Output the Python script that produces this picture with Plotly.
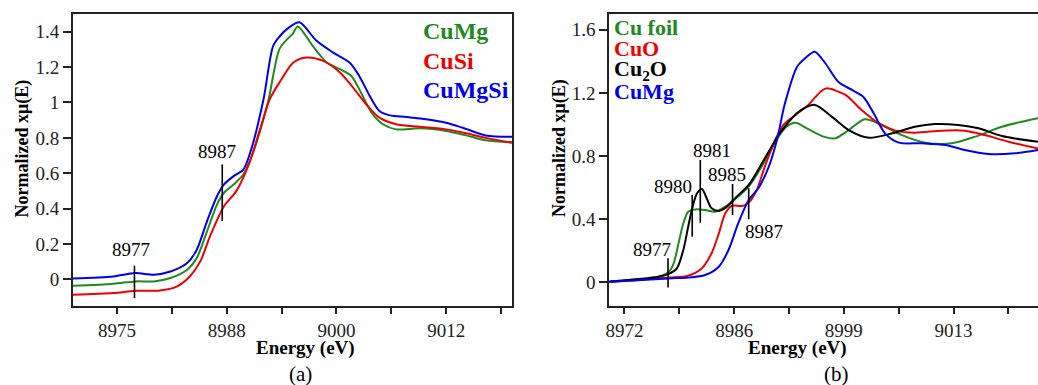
import plotly.graph_objects as go

# ---------------- Panel (a): CuMg, CuSi, CuMgSi ----------------
a_cumg_e = [8970.0, 8974.6, 8977.1, 8979.2, 8981.1, 8983.0, 8984.1, 8985.2, 8986.4, 8987.2,
            8988.3, 8989.4, 8990.5, 8992.2, 8993.5, 8994.4, 8995.0, 8995.6, 8997.3, 8998.9,
            9000.4, 9001.7, 9002.8, 9004.0, 9005.3, 9006.8, 9009.5, 9012.5, 9014.8, 9017.0, 9020.0]
a_cumg_mu = [-0.036, -0.024, -0.011, -0.011, 0.008, 0.055, 0.121, 0.263, 0.423, 0.490,
             0.537, 0.593, 0.716, 1.000, 1.300, 1.358, 1.386, 1.430, 1.320, 1.226,
             1.188, 1.150, 1.056, 0.943, 0.877, 0.848, 0.854, 0.839, 0.814, 0.786, 0.775]

a_cusi_e = [8970.0, 8974.6, 8977.1, 8979.9, 8981.8, 8983.3, 8984.5, 8985.6, 8987.2, 8988.6,
            8990.1, 8991.3, 8992.4, 8993.6, 8995.1, 8996.6, 8998.5, 9000.4, 9001.9, 9003.4,
            9004.9, 9006.8, 9009.5, 9012.5, 9014.8, 9017.0, 9020.0]
a_cusi_mu = [-0.087, -0.077, -0.064, -0.062, -0.040, 0.017, 0.102, 0.244, 0.414, 0.499,
             0.660, 0.848, 1.018, 1.120, 1.226, 1.254, 1.235, 1.170, 1.084, 0.990,
             0.914, 0.877, 0.863, 0.848, 0.826, 0.800, 0.772]

a_cumgsi_e = [8970.0, 8974.6, 8977.1, 8979.2, 8981.1, 8983.0, 8984.1, 8985.2, 8986.4, 8987.2,
              8988.3, 8989.4, 8990.3, 8991.7, 8992.8, 8993.6, 8994.5, 8995.8, 8997.7, 8999.6,
              9001.5, 9002.6, 9003.8, 9004.9, 9006.1, 9008.0, 9010.2, 9012.5, 9014.4, 9017.0, 9020.0]
a_cumgsi_mu = [0.005, 0.017, 0.036, 0.027, 0.045, 0.093, 0.168, 0.320, 0.470, 0.537,
               0.584, 0.620, 0.735, 1.018, 1.320, 1.377, 1.420, 1.453, 1.350, 1.283,
               1.226, 1.150, 1.037, 0.952, 0.927, 0.918, 0.905, 0.886, 0.857, 0.814, 0.807]

# edge-feature markers: energy, lower and upper end of the tick
a_mark_e = [8977, 8987]
a_mark_lo = [-0.105, 0.33]
a_mark_hi = [0.078, 0.65]

a_tickvals = [8975, 8987.5, 9000, 9012.5]
a_ticktext = ["8975", "8988", "9000", "9012"]
a_minorvals = [8981.25, 8993.75, 9006.25, 9018.75]
a_ytickvals = [0, 0.2, 0.4, 0.6, 0.8, 1.0, 1.2, 1.4]
a_yticktext = ["0", "0.2", "0.4", "0.6", "0.8", "1", "1.2", "1.4"]

# ---------------- Panel (b): references vs CuMg ----------------
b_foil_e = [8969.7, 8973.3, 8975.8, 8977.1, 8977.7, 8978.3, 8978.9, 8979.5, 8980.4, 8981.6,
            8982.8, 8984.1, 8985.3, 8987.0, 8988.6, 8990.7, 8991.7, 8992.8, 8994.4, 8996.3,
            8997.7, 8999.4, 9001.4, 9003.5, 9006.0, 9008.9, 9012.2, 9015.1, 9018.4, 9022.9]
b_foil_mu = [0.004, 0.015, 0.035, 0.067, 0.120, 0.247, 0.374, 0.447, 0.462, 0.458,
             0.447, 0.479, 0.526, 0.606, 0.733, 0.923, 0.986, 1.011, 0.970, 0.923,
             0.912, 0.965, 1.033, 0.997, 0.933, 0.885, 0.881, 0.923, 0.986, 1.040]

b_cuo_e = [8969.7, 8975.8, 8977.1, 8979.5, 8981.2, 8982.4, 8983.3, 8984.1, 8984.9, 8986.2,
           8987.0, 8988.0, 8989.0, 8990.3, 8991.3, 8992.8, 8994.4, 8995.2, 8996.1, 8996.7,
           8999.0, 9001.0, 9003.1, 9005.2, 9007.6, 9010.9, 9013.8, 9016.3, 9019.2, 9022.9]
b_cuo_mu = [0.004, 0.025, 0.030, 0.042, 0.089, 0.184, 0.310, 0.437, 0.484, 0.484,
            0.505, 0.585, 0.733, 0.902, 0.997, 1.060, 1.124, 1.170, 1.215, 1.229,
            1.187, 1.092, 1.008, 0.961, 0.948, 0.961, 0.961, 0.933, 0.891, 0.848]

b_cu2o_e = [8969.7, 8975.8, 8977.1, 8978.1, 8978.9, 8979.5, 8980.0, 8980.6, 8981.2, 8981.8,
            8982.4, 8983.3, 8984.3, 8985.3, 8987.0, 8988.6, 8990.7, 8991.7, 8993.2, 8995.2,
            8997.3, 8999.4, 9001.9, 9004.8, 9007.6, 9010.1, 9013.0, 9015.5, 9018.4, 9022.9]
b_cu2o_mu = [0.004, 0.035, 0.053, 0.089, 0.205, 0.352, 0.469, 0.564, 0.591, 0.532,
             0.469, 0.452, 0.479, 0.532, 0.617, 0.750, 0.933, 1.000, 1.081, 1.124,
             1.050, 0.965, 0.916, 0.944, 0.986, 1.003, 0.997, 0.976, 0.927, 0.890]

b_cumg_e = [8969.7, 8977.1, 8979.5, 8981.6, 8983.3, 8984.5, 8985.7, 8987.0, 8988.2, 8989.5,
            8990.5, 8991.5, 8993.0, 8994.0, 8995.2, 8996.5, 8998.1, 8999.8, 9001.2, 9002.5,
            9003.9, 9005.6, 9008.5, 9011.4, 9013.8, 9016.7, 9020.0, 9022.9]
b_cumg_mu = [0.004, 0.025, 0.030, 0.046, 0.099, 0.205, 0.374, 0.522, 0.596, 0.733,
             0.902, 1.134, 1.366, 1.420, 1.461, 1.388, 1.271, 1.219, 1.176, 1.071,
             0.944, 0.885, 0.881, 0.870, 0.838, 0.813, 0.817, 0.838]

b_mark_e = [8977, 8980, 8981, 8985, 8987]
b_mark_lo = [-0.032, 0.289, 0.378, 0.426, 0.399]
b_mark_hi = [0.152, 0.553, 0.775, 0.623, 0.596]

b_tickvals = [8971.6, 8985.2, 8998.8, 9012.4]
b_ticktext = ["8972", "8986", "8999", "9013"]
b_minorvals = [8978.4, 8992.0, 9005.6, 9019.2]
b_ytickvals = [0, 0.4, 0.8, 1.2, 1.6]
b_yticktext = ["0", "0.4", "0.8", "1.2", "1.6"]

GREEN = "#1f8a1f"
RED = "#ee0000"
BLUE = "#0000ee"
BLACK = "#000000"
SERIF = "Times New Roman, Liberation Serif, serif"

W, H = 1038, 385

fig = go.Figure()


def curve(x, y, color, xa, ya):
    fig.add_trace(go.Scatter(x=x, y=y, mode="lines", xaxis=xa, yaxis=ya,
                             line=dict(color=color, width=2, shape="spline", smoothing=0.8),
                             showlegend=False, hoverinfo="skip"))


def markers(es, los, his, xa, ya):
    for e, lo, hi in zip(es, los, his):
        fig.add_trace(go.Scatter(x=[e, e], y=[lo, hi], mode="lines", xaxis=xa, yaxis=ya,
                                 line=dict(color=BLACK, width=1.6),
                                 showlegend=False, hoverinfo="skip"))


# panel (a)
curve(a_cumg_e, a_cumg_mu, GREEN, "x", "y")
curve(a_cusi_e, a_cusi_mu, RED, "x", "y")
curve(a_cumgsi_e, a_cumgsi_mu, BLUE, "x", "y")
markers(a_mark_e, a_mark_lo, a_mark_hi, "x", "y")

# panel (b)
curve(b_foil_e, b_foil_mu, GREEN, "x2", "y2")
curve(b_cuo_e, b_cuo_mu, RED, "x2", "y2")
curve(b_cu2o_e, b_cu2o_mu, BLACK, "x2", "y2")
curve(b_cumg_e, b_cumg_mu, BLUE, "x2", "y2")
markers(b_mark_e, b_mark_lo, b_mark_hi, "x2", "y2")

ydom = [1 - 306 / H, 1 - 14 / H]
AX = "#222222"

axis_common = dict(showgrid=False, zeroline=False, showline=True, linecolor=AX,
                   linewidth=2, ticks="outside", tickwidth=1.6, tickcolor=AX,
                   tickfont=dict(family=SERIF, size=19, color=AX),
                   automargin=False, tickmode="array")
xstyle = dict(axis_common, ticklen=6,
              minor=dict(ticks="outside", ticklen=6, tickwidth=1.6, tickcolor=AX, showgrid=False))
ystyle = dict(axis_common, ticklen=8)

fig.update_layout(
    width=W, height=H,
    margin=dict(l=0, r=0, t=0, b=0),
    paper_bgcolor="white", plot_bgcolor="white",
    font=dict(family=SERIF),
    xaxis=dict(xstyle, domain=[73 / W, 512 / W], range=[8970, 9020], anchor="y", mirror=True,
               tickvals=a_tickvals, ticktext=a_ticktext),
    yaxis=dict(ystyle, domain=ydom, range=[-0.15, 1.5], anchor="x", mirror=True,
               tickvals=a_ytickvals, ticktext=a_yticktext),
    xaxis2=dict(xstyle, domain=[609.3 / W, 1.0], range=[8969.72, 9022.87], anchor="y2", mirror=True,
                tickvals=b_tickvals, ticktext=b_ticktext),
    yaxis2=dict(ystyle, domain=ydom, range=[-0.15, 1.7], anchor="x2", mirror=False,
                tickvals=b_ytickvals, ticktext=b_yticktext),
)
fig.update_xaxes(minor_tickvals=a_minorvals, selector=dict(anchor="y"))
fig.update_xaxes(minor_tickvals=b_minorvals, selector=dict(anchor="y2"))

ann = []


def text(x, y, s, size, color=BLACK, bold=False, xref="paper", yref="paper",
         xanchor="center", angle=0):
    if bold:
        s = "<b>" + s + "</b>"
    ann.append(dict(x=x, y=y, xref=xref, yref=yref, text=s, showarrow=False,
                    xanchor=xanchor, yanchor="middle", textangle=angle,
                    font=dict(family=SERIF, size=size, color=color)))


def px(xp):
    return xp / W


def py(yp):
    return 1 - yp / H


# axis titles and panel captions
text(px(305), py(348), "Energy (eV)", 19, bold=True)
text(px(797), py(348), "Energy (eV)", 19, bold=True)
text(px(21.5), py(149), "Normalized xμ(E)", 18, bold=True, angle=-90)
text(px(559), py(148), "Normalized xμ(E)", 18, bold=True, angle=-90)
text(px(300), py(374), "(a)", 21)
text(px(836), py(374), "(b)", 21)

# series labels
text(px(421), py(31), "CuMg", 24, GREEN, True, xanchor="left")
text(px(421), py(61), "CuSi", 24, RED, True, xanchor="left")
text(px(421), py(90), "CuMgSi", 24, BLUE, True, xanchor="left")
text(px(612), py(27.5), "Cu foil", 22, GREEN, True, xanchor="left")
text(px(612), py(48.5), "CuO", 22, RED, True, xanchor="left")
text(px(612), py(70), "Cu<sub>2</sub>O", 22, BLACK, True, xanchor="left")
text(px(612), py(92), "CuMg", 22, BLUE, True, xanchor="left")

# feature energies
a_label_pos = [(8976.6, 0.172), (8986.4, 0.725)]
for e, (lx, ly) in zip(a_mark_e, a_label_pos):
    text(lx, ly, str(e), 19, xref="x", yref="y")
b_label_pos = [(8975.0, 0.209), (8977.66, 0.61), (8982.42, 0.834), (8984.28, 0.686), (8988.94, 0.321)]
for e, (lx, ly) in zip(b_mark_e, b_label_pos):
    text(lx, ly, str(e), 19, xref="x2", yref="y2")

fig.update_layout(annotations=ann)

fig.write_html("out.html")
